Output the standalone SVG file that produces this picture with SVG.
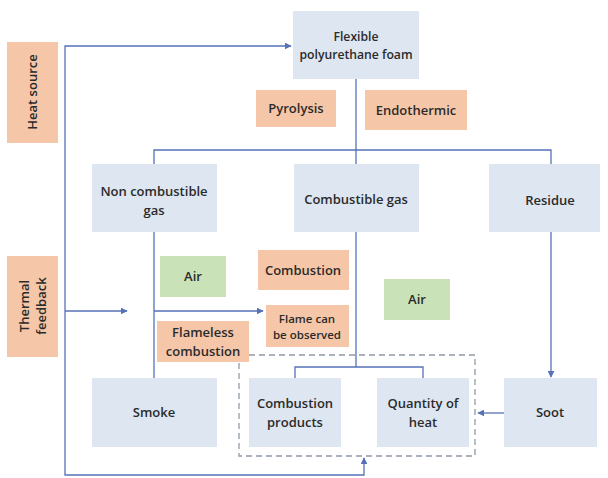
<svg xmlns="http://www.w3.org/2000/svg" width="608" height="478" viewBox="0 0 608 478">
<defs>
<style>
.b{fill:#dde6f1}
.o{fill:#f5c7a8}
.g{fill:#c9e2b8}
.t{font-family:"Open Sans","Liberation Sans",sans-serif;font-size:13px;font-weight:600;fill:#2b2b2b;text-anchor:middle}
.s{font-size:11.5px}
.f{font-size:12.2px}
.c{fill:none;stroke:#5671b8;stroke-width:1.3}
.d{fill:none;stroke:#8f9aa8;stroke-width:1.3;stroke-dasharray:6 4}
</style>
<marker id="ah" viewBox="0 0 10 10" refX="9" refY="5" markerWidth="7" markerHeight="7" markerUnits="userSpaceOnUse" orient="auto">
<path d="M0,0 L10,5 L0,10 z" fill="#5671b8"/>
</marker>
</defs>
<rect width="608" height="478" fill="#ffffff"/>
<g id="connectors">
<polyline class="c" points="65,311 65,475 364,475 364,458" marker-end="url(#ah)"/>
<polyline class="c" points="65,311 65,46 291,46" marker-end="url(#ah)"/>
<line class="c" x1="65" y1="311" x2="127" y2="311" marker-end="url(#ah)"/>
<line class="c" x1="356" y1="79" x2="356" y2="164"/>
<polyline class="c" points="154,164 154,150 551,150 551,164"/>
<line class="c" x1="154" y1="232" x2="154" y2="378"/>
<line class="c" x1="154" y1="311" x2="263" y2="311" marker-end="url(#ah)"/>
<line class="c" x1="551" y1="232" x2="551" y2="377" marker-end="url(#ah)"/>
<line class="c" x1="356" y1="232" x2="356" y2="367"/>
<polyline class="c" points="295,378 295,367 423,367 423,378"/>
<line class="c" x1="504" y1="413" x2="478" y2="413" marker-end="url(#ah)"/>
<rect class="d" x="239" y="355" width="236" height="101"/>
</g>
<g id="heat-source"><rect class="o" x="7" y="42" width="51" height="101"/><text class="t" transform="translate(37,92) rotate(-90)">Heat source</text></g>
<g id="thermal-feedback"><rect class="o" x="7" y="256" width="51" height="101"/><text class="t" transform="translate(29,306) rotate(-90)">Thermal</text><text class="t" transform="translate(46,306) rotate(-90)">feedback</text></g>
<g id="foam"><rect class="b" x="293" y="11" width="126" height="68"/><text class="t f" x="356" y="41">Flexible</text><text class="t f" x="356" y="59">polyurethane foam</text></g>
<g id="pyrolysis"><rect class="o" x="256" y="90" width="80" height="37"/><text class="t" x="296" y="113">Pyrolysis</text></g>
<g id="endothermic"><rect class="o" x="365" y="90" width="102" height="40"/><text class="t" x="416" y="115">Endothermic</text></g>
<g id="non-combustible-gas"><rect class="b" x="92" y="164" width="125" height="68"/><text class="t" x="154" y="196">Non combustible</text><text class="t" x="154" y="215">gas</text></g>
<g id="combustible-gas"><rect class="b" x="294" y="164" width="125" height="68"/><text class="t" x="356" y="204">Combustible gas</text></g>
<g id="residue"><rect class="b" x="489" y="164" width="111" height="68"/><text class="t" x="550" y="205">Residue</text></g>
<g id="air1"><rect class="g" x="160" y="256" width="66" height="41"/><text class="t" x="193" y="281">Air</text></g>
<g id="combustion"><rect class="o" x="258" y="250" width="91" height="40"/><text class="t" x="303" y="275">Combustion</text></g>
<g id="air2"><rect class="g" x="384" y="279" width="66" height="41"/><text class="t" x="417" y="304">Air</text></g>
<g id="flame"><rect class="o" x="266" y="305" width="83" height="42"/><text class="t s" x="307" y="323">Flame can</text><text class="t s" x="307" y="339">be observed</text></g>
<g id="flameless"><rect class="o" x="157" y="321" width="92" height="41"/><text class="t" x="203" y="337">Flameless</text><text class="t" x="203" y="356">combustion</text></g>
<g id="smoke"><rect class="b" x="92" y="378" width="125" height="69"/><text class="t" x="154" y="417">Smoke</text></g>
<g id="combustion-products"><rect class="b" x="249" y="378" width="92" height="69"/><text class="t" x="295" y="408">Combustion</text><text class="t" x="295" y="427">products</text></g>
<g id="quantity-of-heat"><rect class="b" x="377" y="378" width="92" height="69"/><text class="t" x="423" y="408">Quantity of</text><text class="t" x="423" y="427">heat</text></g>
<g id="soot"><rect class="b" x="504" y="378" width="93" height="69"/><text class="t" x="550" y="417">Soot</text></g>
</svg>
